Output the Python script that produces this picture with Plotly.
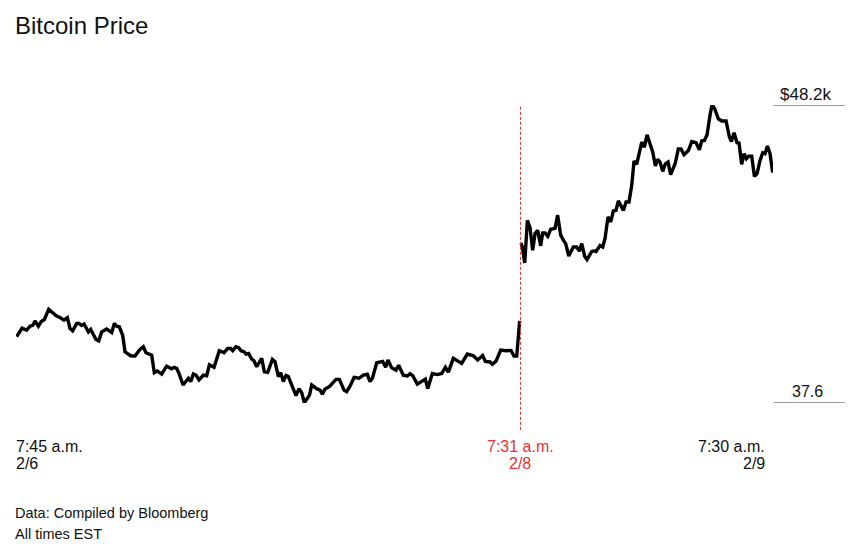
import plotly.graph_objects as go

# hours since 7:45 a.m. on 2/6
hours_before = [
    0.06, 0.57, 1.01, 1.33, 1.58, 1.80, 2.12, 2.40, 2.69, 3.10, 3.48, 3.85, 4.17, 4.55, 4.87, 5.12,
    5.37, 5.75, 5.97, 6.22, 6.45, 6.86, 7.08, 7.58, 7.84, 8.12, 8.59, 9.07, 9.32, 9.54, 9.79, 10.11,
    10.33, 10.87, 11.28, 11.69, 12.07, 12.32, 12.86, 13.11, 13.40, 13.81, 14.28, 14.76, 14.98, 15.23,
    15.45, 15.83, 16.34, 16.56, 16.81, 17.06, 17.35, 17.76, 18.07, 18.33, 18.77, 19.02, 19.27, 19.72,
    20.06, 20.35, 20.54, 20.85, 21.11, 21.33, 21.64, 21.80, 22.05, 22.34, 22.56, 22.81, 23.29, 23.54,
    23.86, 24.30, 24.55, 24.87, 25.09, 25.34, 25.59, 25.81, 26.54, 26.82, 27.08, 27.33, 27.82, 28.03,
    28.50, 28.82, 29.04, 29.29, 29.70, 30.33, 30.65, 31.09, 31.34, 31.66, 32.04, 32.51, 32.92, 33.30,
    33.55, 33.78, 34.19, 34.76, 35.04, 35.26, 35.61, 36.02, 36.27, 36.71, 37.09, 37.35, 37.60, 38.04,
    38.61, 38.80, 39.02, 39.46, 39.94, 40.35, 40.70, 40.98, 41.45, 42.24, 42.78, 43.35, 43.76, 44.23,
    44.49, 44.93, 45.15, 45.50, 45.94, 46.41, 46.92, 47.20, 47.46, 47.74,
]
# price in $ thousands
price_before = [
    39.96, 40.26, 40.19, 40.33, 40.36, 40.52, 40.33, 40.50, 40.57, 40.93, 40.81, 40.69, 40.64, 40.55, 40.64, 40.25,
    40.17, 40.43, 40.43, 40.36, 40.41, 40.13, 40.22, 39.86, 39.81, 40.13, 40.23, 40.11, 40.43, 40.33, 40.31, 40.01,
    39.42, 39.28, 39.27, 39.48, 39.60, 39.39, 39.30, 38.68, 38.74, 38.63, 38.91, 38.82, 38.87, 38.83,
    38.65, 38.24, 38.48, 38.36, 38.63, 38.59, 38.42, 38.59, 38.57, 38.96, 38.87, 39.13, 39.46, 39.39,
    39.54, 39.54, 39.46, 39.60, 39.57, 39.46, 39.42, 39.34, 39.36, 39.16, 39.10, 38.89, 39.19, 38.71,
    38.69, 39.15, 39.07, 38.54, 38.68, 38.36, 38.58, 38.54, 37.86, 38.11, 37.97, 37.61, 37.88, 38.24,
    38.11, 38.06, 37.91, 38.10, 38.18, 38.44, 38.44, 38.06, 38.00, 38.20, 38.51, 38.48, 38.59, 38.62,
    38.36, 38.48, 39.03, 39.08, 38.87, 39.13, 38.85, 38.77, 38.94, 38.59, 38.56, 38.64, 38.57, 38.27,
    38.38, 38.45, 38.11, 38.65, 38.61, 38.65, 38.87, 38.70, 39.19, 39.01, 39.34, 39.28, 39.13, 39.29,
    39.08, 39.06, 38.98, 39.09, 39.48, 39.46, 39.47, 39.27, 39.27, 40.52,
]
hours_after = [
    47.87, 47.99, 48.22, 48.47, 48.72, 48.97, 49.20, 49.45, 49.73, 49.92, 50.14, 50.40, 50.68, 51.09, 51.34, 51.63,
    51.88, 52.10, 52.39, 52.83, 53.14, 53.40, 53.62, 53.90, 54.12, 54.57, 54.79, 54.98, 55.36, 55.61, 55.83, 56.11,
    56.37, 56.62, 56.87, 57.09, 57.57, 57.82, 58.10, 58.36, 58.58, 58.83, 59.31, 59.56, 59.81, 60.35, 60.60, 60.82,
    61.04, 61.30, 61.55, 61.80, 62.05, 62.47, 62.78, 63.03, 63.32, 63.73, 64.05, 64.46, 64.77, 64.99, 65.25, 65.50,
    65.78, 65.97, 66.23, 66.57, 66.89, 67.30, 67.62, 67.81, 68.06, 68.34, 68.53, 68.78, 69.01, 69.23, 69.45, 69.73,
    69.99, 70.24, 70.52, 70.78, 71.00, 71.22, 71.47, 71.72,
]
price_after = [
    43.29, 43.15, 42.58, 44.10, 43.84, 43.03, 43.63, 43.74, 43.19, 43.65, 43.65, 43.53, 43.78, 43.81, 44.28, 43.57,
    43.39, 43.27, 42.83, 43.15, 43.15, 43.00, 43.27, 42.82, 42.70, 42.99, 43.01, 42.99, 43.20, 43.15, 43.45, 44.22,
    44.04, 44.43, 44.45, 44.79, 44.45, 44.75, 44.75, 45.34, 46.21, 46.09, 46.88, 46.70, 47.14, 46.53, 46.03, 46.27,
    46.17, 45.84, 46.11, 46.17, 45.72, 46.11, 46.64, 46.64, 46.43, 46.58, 46.90, 46.86, 46.61, 46.92, 46.94, 47.14,
    47.83, 48.21, 48.06, 47.71, 47.63, 47.63, 47.06, 46.90, 47.21, 46.86, 46.85, 46.09, 46.47, 46.29, 46.38, 46.38,
    45.66, 45.76, 46.23, 46.50, 46.47, 46.74, 46.47, 45.80,
]

x_start = 0
x_event = 47.82
x_end = 71.75
y_low = 37.6
y_high = 48.2

RED = "#ee2f2f"
INK = "#111111"
FONT = "Liberation Sans"

fig = go.Figure()
for xs, ys in [(hours_before, price_before), (hours_after, price_after)]:
    fig.add_trace(go.Scatter(
        x=xs,
        y=ys,
        mode="lines",
        line=dict(color="black", width=3.4),
        cliponaxis=False,
        showlegend=False,
        hoverinfo="skip",
    ))

# event marker
fig.add_shape(type="line", xref="x", yref="paper", x0=x_event, x1=x_event, y0=-0.09, y1=1.0,
              line=dict(color=RED, width=1, dash="3px,2px"))
# short reference rules on the right
for val in [y_high, y_low]:
    fig.add_shape(type="line", xref="paper", yref="y", x0=1.001, x1=1.095, y0=val, y1=val,
                  line=dict(color="#333333", width=1))


def label(text, x, xanchor, y, color=INK, size=16, xref="x", yref="paper"):
    fig.add_annotation(text=text, x=x, y=y, xref=xref, yref=yref, xanchor=xanchor, yanchor="middle",
                       showarrow=False, align=xanchor, font=dict(family=FONT, size=size, color=color))


label("7:45 a.m.", -2 / 757, "left", -0.145, xref="paper")
label("2/6", -2 / 757, "left", -0.203, xref="paper")
label("7:31 a.m.", x_event - 0.05, "center", -0.145, color=RED)
label("2/8", x_event - 0.05, "center", -0.203, color=RED)
label("7:30 a.m.", x_end - 0.6, "right", -0.145)
label("2/9", x_end - 0.6, "right", -0.203)
label("$48.2k", 1.081, "right", 1.034, size=17, xref="paper")
label("37.6", 1.069, "right", 0.04, xref="paper")
label("Bitcoin Price", -3 / 757, "left", 1.268, size=24, xref="paper")
label("Data: Compiled by Bloomberg", -3 / 757, "left", -0.37, size=14.5, xref="paper")
label("All times EST", -3 / 757, "left", -0.44, size=14.5, xref="paper")

fig.update_layout(
    width=858,
    height=560,
    margin=dict(l=16, r=85, t=105, b=157),
    paper_bgcolor="white",
    plot_bgcolor="white",
    xaxis=dict(range=[x_start, x_end], visible=False),
    yaxis=dict(range=[y_low, y_high], visible=False),
)

# the page's default body margin would push the chart 8px off
fig.write_html("out.html", config={"displayModeBar": False},
               post_script="document.body.style.margin = '0';")
